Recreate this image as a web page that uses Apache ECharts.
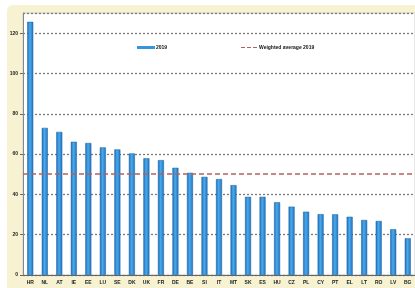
<!DOCTYPE html>
<html>
<head>
<meta charset="utf-8">
<script src="https://cdn.jsdelivr.net/npm/echarts@6/dist/echarts.min.js"></script>
<style>
  html, body { margin: 0; padding: 0; background: #fff; overflow: hidden; }
  #bg { position: absolute; left: 7px; top: 5px; width: 420px; height: 300px;
        background: #f7f2d2; border-radius: 6px; }
  #chart { position: absolute; left: 0; top: 0; width: 415px; height: 288px; }
</style>
</head>
<body>
<div id="bg"></div>
<div id="chart"></div>
<script>
// 국가 코드 (x축)
const COUNTRIES = ['HR','NL','AT','IE','EE','LU','SE','DK','UK','FR','DE','BE','SI','IT',
                   'MT','SK','ES','HU','CZ','PL','CY','PT','EL','LT','RO','LV','BG']
// 2019 값
const VALUES_2019 = [125.6, 73.0, 71.0, 66.1, 65.5, 63.3, 62.3, 60.3, 57.9, 57.0, 53.2, 50.7, 48.7, 47.6,
                     44.6, 38.8, 38.8, 36.1, 33.9, 31.4, 30.2, 30.1, 28.9, 27.3, 26.8, 22.7, 18.2]
// 가중 평균 2019
const WEIGHTED_AVG = 50
const Y_TICKS = [0, 20, 40, 60, 80, 100, 120]

const chart = echarts.init(document.getElementById('chart'))

chart.setOption({
  backgroundColor: 'transparent',
  animation: false,
  legend: [
    {
      data: ['2019'],
      left: 132, top: 40,
      itemWidth: 18, itemHeight: 3,
      icon: 'rect',
      itemStyle: { color: '#3596dc', borderWidth: 0 },
      textStyle: { fontSize: 5, color: '#111', fontWeight: 'bold', padding: [0, 0, 0, -4] }
    },
    {
      data: ['Weighted average 2019'],
      left: 236, top: 40,
      itemWidth: 16, itemHeight: 2,
      icon: 'path://M0,0h4v1h-4z M6,0h4v1h-4z M12,0h4v1h-4z',
      textStyle: { fontSize: 5, color: '#111', fontWeight: 'bold', padding: [0, 0, 0, -3] }
    }
  ],
  grid: {
    left: 23, top: 13, width: 394, height: 262,
    show: true, backgroundColor: '#fff', borderColor: '#d0d0d0', borderWidth: 1
  },
  xAxis: {
    type: 'category',
    data: COUNTRIES,
    axisLine: { lineStyle: { color: '#666' } },
    axisTick: { show: false },
    axisLabel: { fontSize: 5, color: '#222', fontWeight: 'bold', margin: 5, interval: 0 }
  },
  yAxis: {
    type: 'value',
    min: 0, max: 130, interval: 20,
    axisLine: { show: true, lineStyle: { color: '#888' } },
    axisTick: { show: true, length: 3, lineStyle: { color: '#666' } },
    axisLabel: {
      fontSize: 5, color: '#222', fontWeight: 'bold', margin: 5, showMaxLabel: false,
      formatter: v => Y_TICKS.includes(v) ? String(v) : ''
    },
    splitLine: { lineStyle: { color: '#7a7a7a', type: [2, 2], width: 1.3 } }
  },
  series: [
    {
      name: '2019',
      type: 'bar',
      data: VALUES_2019,
      barWidth: 6,
      color: '#2f8fd8',
      itemStyle: {
        color: {
          type: 'linear', x: 0, y: 0, x2: 1, y2: 0,
          colorStops: [
            { offset: 0, color: '#1c6db8' },
            { offset: 0.45, color: '#4aa9ec' },
            { offset: 1, color: '#1f72bd' }
          ]
        },
        borderColor: '#1a5f9f', borderWidth: 0.5
      }
    },
    {
      name: 'Weighted average 2019',
      type: 'line',
      data: [],
      color: '#b5615a',
      symbol: 'none',
      markLine: {
        silent: true,
        symbol: 'none',
        label: { show: false },
        lineStyle: { color: '#b5615a', type: [5, 3], width: 1.5 },
        data: [{ yAxis: WEIGHTED_AVG }]
      }
    }
  ]
})
</script>
</body>
</html>
